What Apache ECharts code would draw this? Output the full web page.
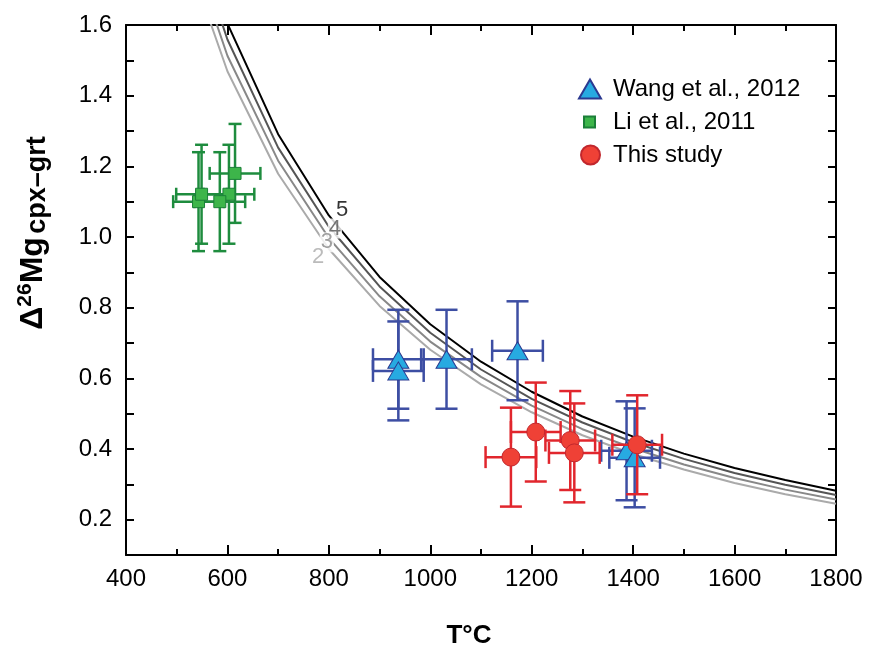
<!DOCTYPE html>
<html><head><meta charset="utf-8">
<script src="https://cdn.jsdelivr.net/npm/echarts@6/dist/echarts.min.js"></script>
<style>html,body{margin:0;padding:0;background:#fff}#c{width:874px;height:654px}</style>
</head><body><div id="c"></div>
<script>
// Model curves at 100 °C steps
const curveT = [500,600,700,800,900,1000,1100,1200,1300,1400,1500,1600,1700,1800];
const curve5 = [2.047,1.604,1.291,1.061,0.887,0.753,0.647,0.562,0.492,0.435,0.387,0.346,0.312,0.282];
const curve4 = [1.990,1.559,1.253,1.029,0.860,0.729,0.625,0.542,0.475,0.419,0.372,0.332,0.299,0.270];
const curve3 = [1.934,1.513,1.216,0.997,0.832,0.704,0.604,0.523,0.456,0.402,0.356,0.318,0.285,0.257];
const curve2 = [1.879,1.469,1.179,0.966,0.805,0.681,0.583,0.504,0.439,0.386,0.342,0.304,0.272,0.245];
const curveLabels = ['5','4','3','2'];
const curveLabelT = [826,812,796,779];
const curveLabelD = [1.076,1.024,0.985,0.943];

// Wang et al., 2012
const wangT = [937,937,1032,1172,1387,1403];
const wangD = [0.654,0.621,0.654,0.678,0.395,0.375];
const wangTErr = [50,50,50,50,50,50];
const wangDErr = [0.14,0.14,0.14,0.14,0.14,0.14];
// Li et al., 2011
const liT = [615,603,543,549,585];
const liD = [1.180,1.121,1.100,1.121,1.100];
const liTErr = [50,50,50,50,50];
const liDErr = [0.14,0.14,0.14,0.14,0.14];
// This study
const thisT = [1159,1208,1276,1284,1408];
const thisD = [0.377,0.448,0.424,0.389,0.412];
const thisTErr = [50,49,49,50,49];
const thisDErr = [0.14,0.14,0.14,0.14,0.14];

const xTicks = [400,600,800,1000,1200,1400,1600,1800];

const FONT = '"Liberation Sans", Arial, Helvetica, sans-serif';

function zip(a,b){return a.map((v,i)=>[v,b[i]]);}
function zip4(a,b,c,d){return a.map((v,i)=>[v,b[i],c[i],d[i]]);}

function errRender(color, cap, lw){
  return function(params, api){
    const x=api.value(0), y=api.value(1), ex=api.value(2), ey=api.value(3);
    const l=api.coord([x-ex,y]), r=api.coord([x+ex,y]);
    const t=api.coord([x,y+ey]), b=api.coord([x,y-ey]);
    const h=cap/2;
    const st={stroke:color,lineWidth:lw};
    const ln=(x1,y1,x2,y2)=>({type:'line',shape:{x1,y1,x2,y2},style:st});
    return {type:'group',children:[
      ln(l[0],l[1],r[0],r[1]),
      ln(t[0],t[1],b[0],b[1]),
      ln(l[0],l[1]-h,l[0],l[1]+h),
      ln(r[0],r[1]-h,r[0],r[1]+h),
      ln(t[0]-h,t[1],t[0]+h,t[1]),
      ln(b[0]-h,b[1],b[0]+h,b[1])
    ]};
  };
}

const chart = echarts.init(document.getElementById('c'), null, {renderer:'canvas'});
const axisCommon = {
  min:400,max:1800,interval:200,
  axisLine:{show:true,onZero:false,lineStyle:{color:'#000',width:2}},
  axisTick:{show:true,inside:true,length:10,lineStyle:{color:'#000',width:2}},
  minorTick:{show:true,splitNumber:2,length:6,lineStyle:{color:'#000',width:2}},
  splitLine:{show:false}
};
const yCommon = {
  min:0.1,max:1.6,interval:0.1,
  axisLine:{show:true,onZero:false,lineStyle:{color:'#000',width:2}},
  axisTick:{show:true,inside:true,length:8,lineStyle:{color:'#000',width:2}},
  splitLine:{show:false}
};
const curveColors = ['#000000','#555555','#888888','#aaaaaa'];
const curves = [curve5,curve4,curve3,curve2];

const series = [];
curves.forEach((c,i)=>{
  series.push({type:'line',data:zip(curveT,c),symbol:'none',clip:true,
    lineStyle:{color:curveColors[i],width:2},silent:true,z:1});
});
series.push({type:'scatter',symbolSize:0,silent:true,z:2,
  data:curveLabels.map((n,i)=>({value:[curveLabelT[i],curveLabelD[i]],
    label:{show:true,position:'inside',formatter:n,fontSize:22,fontFamily:FONT,color:curveColors[i],
      backgroundColor:'#fff',padding:[0,1,0,1],lineHeight:20}}))});

series.push({type:'custom',renderItem:errRender('#1e8c3e',13,2.5),data:zip4(liT,liD,liTErr,liDErr),encode:{x:0,y:1},z:3});
series.push({type:'scatter',name:'Li et al., 2011',data:zip(liT,liD),symbol:'rect',symbolSize:12,
  itemStyle:{color:'#3db54a',borderColor:'#1b7f38',borderWidth:1,opacity:1},z:4});
series.push({type:'custom',renderItem:errRender('#3d4ea3',22,2.5),data:zip4(wangT,wangD,wangTErr,wangDErr),encode:{x:0,y:1},z:5});
series.push({type:'scatter',name:'Wang et al., 2012',data:zip(wangT,wangD),symbol:'triangle',symbolSize:[21,18],
  itemStyle:{color:'#27aae1',borderColor:'#2b3990',borderWidth:1,opacity:1},z:6});
series.push({type:'custom',renderItem:errRender('#e1262d',22,2.5),data:zip4(thisT,thisD,thisTErr,thisDErr),encode:{x:0,y:1},z:7});
series.push({type:'scatter',name:'This study',data:zip(thisT,thisD),symbol:'circle',symbolSize:18,
  itemStyle:{color:'#ef4136',borderColor:'#c1272d',borderWidth:1,opacity:1},z:8});

const legendText = {fontSize:24,fontFamily:FONT,color:'#000'};
chart.setOption({
  animation:false,
  backgroundColor:'#fff',
  grid:{left:126,right:38,top:25,bottom:98},
  legend:[
    {left:578,top:77,padding:0,itemWidth:22,itemHeight:19,selectedMode:false,
     data:[{name:'Wang et al., 2012',icon:'triangle'}],textStyle:Object.assign({padding:[0,0,0,7]},legendText)},
    {left:583,top:110,padding:0,itemWidth:11,itemHeight:11,selectedMode:false,
     data:[{name:'Li et al., 2011',icon:'rect'}],textStyle:Object.assign({padding:[0,0,0,13]},legendText)},
    {left:580,top:143,padding:0,itemWidth:19,itemHeight:19,selectedMode:false,
     data:[{name:'This study',icon:'circle'}],textStyle:Object.assign({padding:[0,0,0,8]},legendText)}
  ],
  xAxis:[
    Object.assign({type:'value',position:'bottom',
      axisLabel:{show:true,fontSize:24,fontFamily:FONT,color:'#000',margin:12,
        formatter:v=>xTicks.indexOf(v)>=0?String(v):''},
      name:'T°C',nameLocation:'middle',nameGap:68,
      nameTextStyle:{fontSize:26,fontWeight:'bold',fontFamily:FONT,color:'#000',padding:[0,24,0,0]}},axisCommon),
    Object.assign({type:'value',position:'top',axisLabel:{show:false}},axisCommon)
  ],
  yAxis:[
    Object.assign({type:'value',position:'left',
      axisLabel:{show:true,fontSize:24,fontFamily:FONT,color:'#000',margin:14,
        formatter:v=>{const k=Math.round(v*10);return k%2===0?(k/10).toFixed(1):'';}}},yCommon),
    Object.assign({type:'value',position:'right',axisLabel:{show:false}},yCommon)
  ],
  graphic:[{
    type:'text',x:33,y:233,rotation:Math.PI/2,
    style:{
      text:'{a|Δ}{s|26}{a|Mg} {b|cpx–grt}',
      align:'center',verticalAlign:'middle',
      rich:{
        a:{fontSize:32,fontWeight:'bold',fontFamily:FONT,color:'#000',lineHeight:36},
        s:{fontSize:21,fontWeight:'bold',fontFamily:FONT,color:'#000',verticalAlign:'top',lineHeight:22},
        b:{fontSize:27,fontWeight:'bold',fontFamily:FONT,color:'#000',verticalAlign:'bottom',lineHeight:30}
      }
    }
  }],
  series:series
});
</script></body></html>
